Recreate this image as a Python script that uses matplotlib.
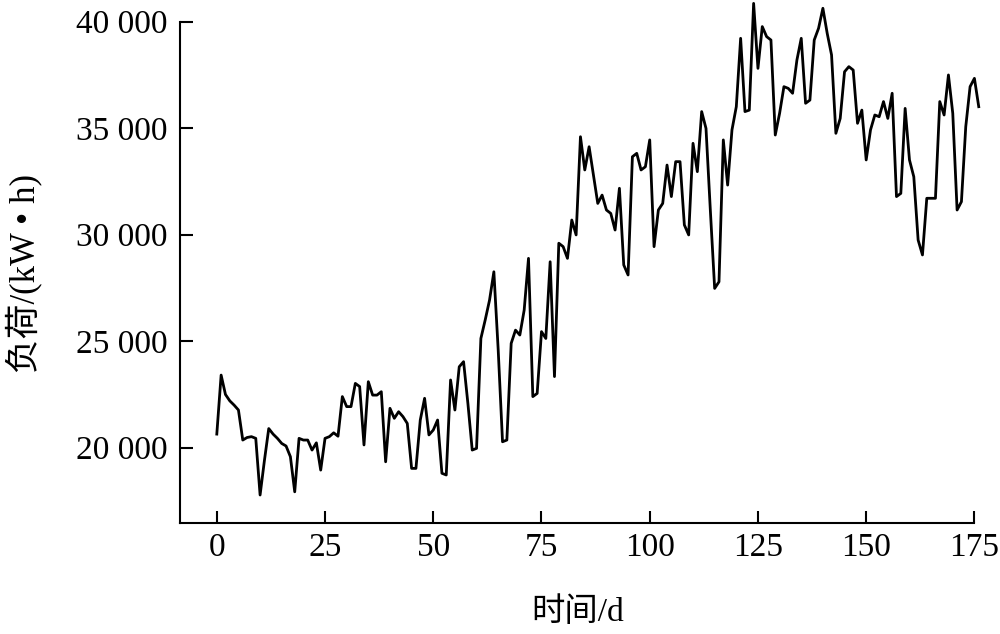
import numpy as np
import matplotlib

matplotlib.use("Agg")
import matplotlib.pyplot as plt  # noqa: E402

# daily load values (days 0..176)
days = np.arange(177)
load = [
    20640, 23410, 22500, 22200, 22000, 21770, 20360, 20480, 20520, 20440,
    17780, 19400, 20900, 20640, 20440, 20200, 20080, 19580, 17930, 20440,
    20360, 20360, 19890, 20230, 18950, 20440, 20520, 20700, 20540, 22400,
    21930, 21930, 23020, 22870, 20130, 23100, 22470, 22470, 22630, 19340,
    21850, 21380, 21690, 21460, 21140, 19030, 19030, 21300, 22320, 20600,
    20830, 21300, 18800, 18720, 23180, 21770, 23800, 24040, 22080, 19890,
    19970, 25130, 26000, 26930, 28260, 24590, 20280, 20360, 24900, 25520,
    25290, 26460, 28890, 22400, 22550, 25450, 25130, 28730, 23340, 29600,
    29440, 28890, 30690, 29990, 34600, 33040, 34130, 32800, 31470, 31860,
    31160, 31000, 30220, 32180, 28580, 28110, 33660, 33820, 33040, 33190,
    34450, 29440, 31160, 31470, 33270, 31790, 33430, 33430, 30460, 29990,
    34290, 32960, 35780, 34990, 31160, 27480, 27790, 34450, 32330, 34920,
    36010, 39220, 35780, 35850, 40860, 37810, 39770, 39300, 39140, 34680,
    35700, 36950, 36870, 36640, 38200, 39220, 36170, 36320, 39140, 39690,
    40630, 39450, 38440, 34760, 35460, 37650, 37890, 37730, 35230, 35850,
    33510, 34920, 35620, 35540, 36250, 35460, 36640, 31790, 31940, 35930,
    33510, 32720, 29750, 29050, 31710, 31710, 31710, 36250, 35620, 37500,
    35700, 31160, 31550, 35070, 36950, 37340, 36010,
]

x_ticks = [0, 25, 50, 75, 100, 125, 150, 175]
y_ticks = [20000, 25000, 30000, 35000, 40000]
y_tick_labels = ["20 000", "25 000", "30 000", "35 000", "40 000"]

fonts = ["Liberation Serif", "Noto Sans CJK SC", "DejaVu Sans"]
plt.rcParams["font.family"] = fonts

fig = plt.figure(figsize=(10, 6.34), dpi=100)
ax = fig.add_axes([0.18, 111.3 / 634, 0.8074, 522.3 / 634])

ax.plot(days, load, color="black", linewidth=2.0)

ax.set_xlim(-8.5, 178)
ax.set_ylim(16480, 41000)

ax.spines["top"].set_visible(False)
ax.spines["right"].set_visible(False)
ax.spines["left"].set_bounds(16480, 40000)
ax.spines["bottom"].set_bounds(-8.5, 175)
for side in ("left", "bottom"):
    ax.spines[side].set_linewidth(1.5)

ax.set_xticks(x_ticks)
ax.set_yticks(y_ticks)
ax.set_yticklabels(y_tick_labels)
ax.tick_params(axis="both", direction="in", length=9, width=1.5,
               labelsize=24)
ax.tick_params(axis="y", pad=9)
ax.tick_params(axis="x", pad=7)

ax.set_xlabel("时间/d", fontsize=24)
ax.set_ylabel("负荷/(kW • h)", fontsize=25)
ax.xaxis.set_label_coords(0.493, -0.142)
ax.yaxis.set_label_coords(-0.171, 0.478)

fig.savefig("out.png")
plt.close(fig)
